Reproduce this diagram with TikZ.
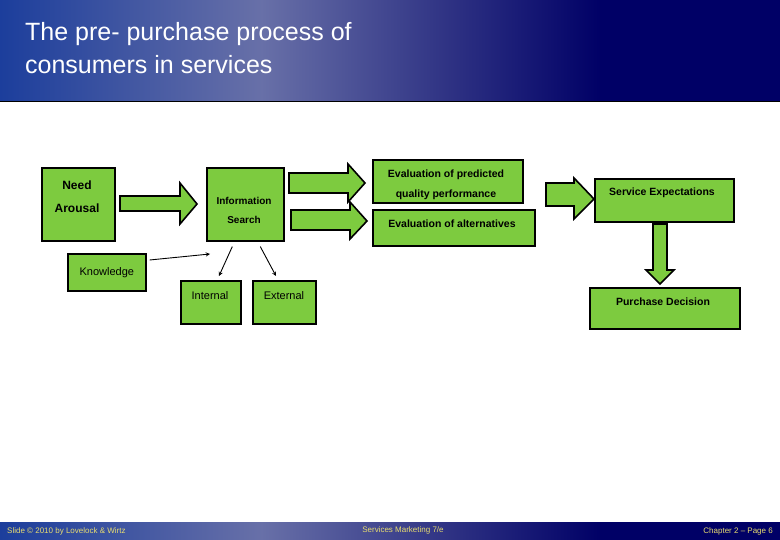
\documentclass[tikz,border=0pt]{standalone}
\usepackage{fontspec}
\setmainfont{Liberation Sans}
\definecolor{gbox}{HTML}{7DCB3F}
\definecolor{hblue}{HTML}{1C3E9C}
\definecolor{hmid}{HTML}{6870A8}
\definecolor{hdark}{HTML}{000066}
\definecolor{ftext}{HTML}{E8DC70}
\begin{document}
\begin{tikzpicture}[x=1pt,y=-1pt,
  gb/.style={draw=black,line width=1.6pt,fill=gbox,inner sep=0pt},
  barrow/.style={draw=black,line width=1.6pt,fill=gbox,line join=miter},
  thin/.style={-stealth,line width=0.9pt}]
\useasboundingbox (0,0) rectangle (780,540);
% header
\shade[left color=hblue,right color=hmid] (0,0) rectangle (262,102);
\shade[left color=hmid,right color=hdark] (261,0) rectangle (601,102);
\fill[hdark] (600,0) rectangle (780,102);
\draw[black,line width=1pt] (0,102) -- (780,102);
\node[anchor=north west,align=left,text=white,font=\fontsize{25}{33}\selectfont,inner sep=0pt] (title) at (25,22) {The pre- purchase process of\\consumers in services};
% footer
\shade[left color=hblue,right color=hmid] (0,522) rectangle (262,540);
\shade[left color=hmid,right color=hdark] (261,522) rectangle (601,540);
\fill[hdark] (600,522) rectangle (780,540);
\node[anchor=west,text=ftext,font=\fontsize{8}{9}\selectfont,inner sep=0pt] (f1) at (7,531) {Slide © 2010 by Lovelock \& Wirtz};
\node[text=ftext,font=\fontsize{8}{9}\selectfont,inner sep=0pt] (f2) at (403,530) {Services Marketing 7/e};
\node[anchor=east,text=ftext,font=\fontsize{8}{9}\selectfont,inner sep=0pt] (f3) at (773,531) {Chapter 2 -- Page 6};
% boxes
\node[gb,minimum width=73,minimum height=73,anchor=north west] (need) at (41,167) {};
\node[font=\bfseries\fontsize{12}{23}\selectfont,align=center] (needt) at (77,197) {Need\\Arousal};
\node[gb,minimum width=77,minimum height=73,anchor=north west] (info) at (206,167) {};
\node[font=\bfseries\fontsize{10}{19}\selectfont,align=center] (infot) at (244,210) {Information\\Search};
\node[gb,minimum width=78,minimum height=37,anchor=north west,font=\fontsize{11}{13}\selectfont] (know) at (67,253) {Knowledge};
\node[gb,minimum width=60,minimum height=43,anchor=north west,font=\fontsize{11}{13}\selectfont] (int) at (180,280) {};
\node[font=\fontsize{11}{13}\selectfont] at (210,296) {Internal};
\node[gb,minimum width=63,minimum height=43,anchor=north west] (ext) at (252,280) {};
\node[font=\fontsize{11}{13}\selectfont] at (284,296) {External};
\node[gb,minimum width=150,minimum height=43,anchor=north west] (evp) at (372,159) {};
\node[font=\bfseries\fontsize{10.5}{20}\selectfont,align=center] at (446,185) {Evaluation of predicted\\quality performance};
\node[gb,minimum width=162,minimum height=36,anchor=north west] (eva) at (372,209) {};
\node[font=\bfseries\fontsize{10.5}{13}\selectfont] at (452,224) {Evaluation of alternatives};
\node[gb,minimum width=139,minimum height=43,anchor=north west] (serv) at (594,178) {};
\node[font=\bfseries\fontsize{10.5}{13}\selectfont] at (662,193) {Service Expectations};
\node[gb,minimum width=150,minimum height=41,anchor=north west] (pur) at (589,287) {};
\node[font=\bfseries\fontsize{10.5}{13}\selectfont] at (663,302) {Purchase Decision};
% block arrows
\draw[barrow] (120,196) -- (180,196) -- (180,183) -- (197,204) -- (180,224) -- (180,211) -- (120,211) -- cycle;
\draw[barrow] (289,173) -- (348,173) -- (348,164) -- (365,183) -- (348,202) -- (348,193) -- (289,193) -- cycle;
\draw[barrow] (291,210) -- (350,210) -- (350,202) -- (367,221) -- (350,239) -- (350,230) -- (291,230) -- cycle;
\draw[barrow] (546,183) -- (574,183) -- (574,178) -- (594,199) -- (574,219) -- (574,206) -- (546,206) -- cycle;
\draw[barrow] (653,224) -- (667,224) -- (667,270) -- (674,270) -- (660,284) -- (646,270) -- (653,270) -- cycle;
% thin arrows
\draw[thin] (know.north east) ++(3,7) -- (210,254);
\draw[thin] (info.south) ++(-13,5) -- (219,276);
\draw[thin] (info.south) ++(15,5) -- (276,276);
\end{tikzpicture}
\end{document}
